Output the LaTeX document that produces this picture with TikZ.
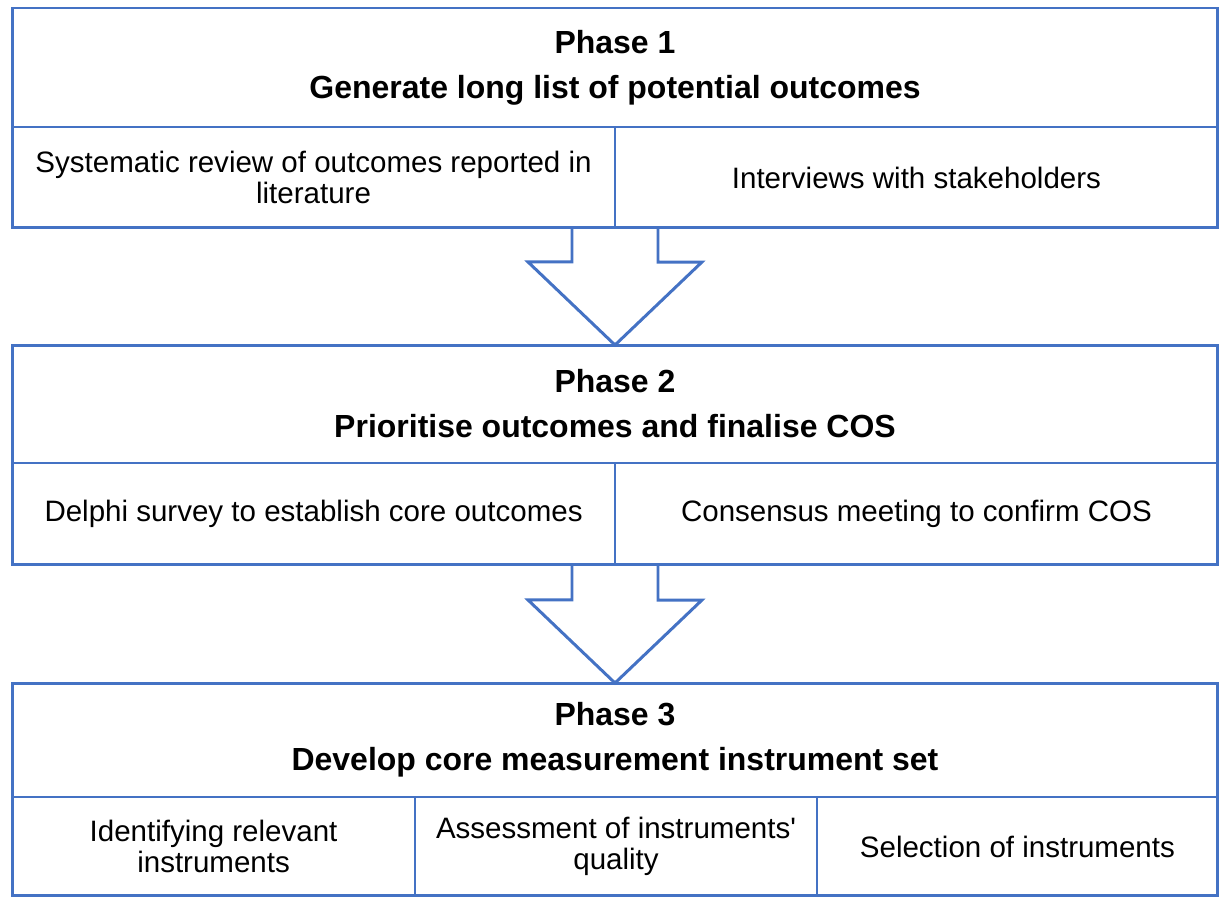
\documentclass[tikz,border=0pt]{standalone}
\usepackage{fontspec}
\setmainfont{Liberation Sans}
\usetikzlibrary{positioning, calc}
\definecolor{cosblue}{RGB}{68,114,196}

\begin{document}
\begin{tikzpicture}[
      x=0.02cm, y=-0.02cm,
      every node/.style={outer sep=0pt, inner sep=2pt, align=center},
      phasehead/.style={draw=cosblue, line width=1pt, minimum width=24.12cm,
        font=\fontsize{18.2}{25.6}\selectfont\bfseries},
      cell/.style={draw=cosblue, line width=1pt, font=\fontsize{16.8}{17.9}\selectfont},
      frame/.style={draw=cosblue, line width=1.7pt},
      blockarrow/.style={draw=cosblue, line width=1.7pt, line join=miter}
    ]
    \useasboundingbox (0,0) rectangle (1221,898);

    % phase 1
    \node[phasehead, minimum height=2.38cm] (p1) at (615,67.5)
      {Phase 1\\Generate long list of potential outcomes};
    \node[cell, anchor=north west, minimum width=12.06cm, minimum height=2.02cm] (lit)
      at (p1.south west) {Systematic review of outcomes reported in\\literature};
    \node[cell, anchor=north west, minimum width=12.06cm, minimum height=2.02cm] (stake)
      at (lit.north east) {Interviews with stakeholders};
    \draw[frame] (p1.north west) rectangle (stake.south east);

    % phase 2
    \node[phasehead, minimum height=2.36cm] (p2) at (615,404)
      {Phase 2\\Prioritise outcomes and finalise COS};
    \node[cell, anchor=north west, minimum width=12.06cm, minimum height=2.04cm] (delphi)
      at (p2.south west) {Delphi survey to establish core outcomes};
    \node[cell, anchor=north west, minimum width=12.06cm, minimum height=2.04cm] (meet)
      at (delphi.north east) {Consensus meeting to confirm COS};
    \draw[frame] (p2.north west) rectangle (meet.south east);

    % phase 3
    \node[phasehead, minimum height=2.28cm] (p3) at (615,740)
      {Phase 3\\Develop core measurement instrument set};
    \node[cell, anchor=north west, minimum width=8.06cm, minimum height=1.98cm] (ident)
      at (p3.south west) {Identifying relevant\\instruments};
    \node[cell, anchor=north west, minimum width=8.04cm, minimum height=1.98cm] (assess)
      at (ident.north east) {Assessment of instruments\textquotesingle\\quality};
    \node[cell, anchor=north west, minimum width=8.02cm, minimum height=1.98cm] (select)
      at (assess.north east) {Selection of instruments};
    \draw[frame] (p3.north west) rectangle (select.south east);

    % block arrows between the phases
    \draw[blockarrow] ($(lit.south east)+(-43,0)$) -- ++(0,34) -- ++(-44,0)
      -- (p2.north) -- ++(87,-83) -- ++(-44,0) -- ++(0,-34);
    \draw[blockarrow] ($(delphi.south east)+(-43,0)$) -- ++(0,35) -- ++(-44,0)
      -- (p3.north) -- ++(87,-83) -- ++(-44,0) -- ++(0,-35);

\end{tikzpicture}
\end{document}
